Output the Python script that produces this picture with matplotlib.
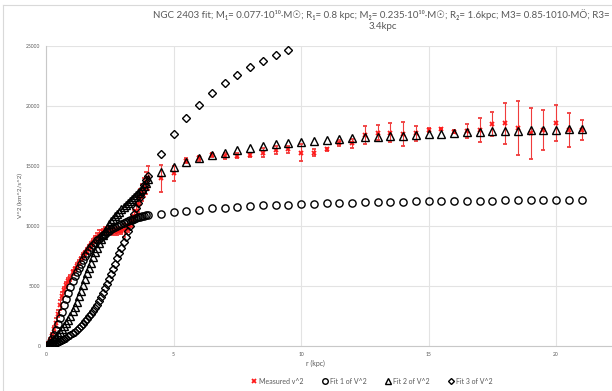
import matplotlib
matplotlib.use('Agg')
import matplotlib.pyplot as plt
from matplotlib.lines import Line2D

plt.rcParams['font.family'] = ['Lato', 'DejaVu Sans']

# inner part of the curve (dense sampling, kpc)
r_in = [0.08, 0.16, 0.24, 0.32, 0.40, 0.48, 0.56, 0.64, 0.72, 0.80,
        0.88, 0.96, 1.04, 1.12, 1.20, 1.28, 1.36, 1.44, 1.52, 1.60,
        1.68, 1.76, 1.84, 1.92, 2.00, 2.08, 2.16, 2.24, 2.32, 2.40,
        2.48, 2.56, 2.64, 2.72, 2.80, 2.88, 2.96, 3.04, 3.12, 3.20,
        3.28, 3.36, 3.44, 3.52, 3.60, 3.68, 3.76, 3.84, 3.92, 4.00]
meas_in = [150, 450, 850, 1400, 1950, 2700, 3400, 4200, 4700, 5100,
           5450, 5700, 6150, 6400, 6700, 6950, 7250, 7500, 7750, 7950,
           8200, 8400, 8650, 8900, 9050, 9200, 9350, 9500, 9600, 9700,
           9650, 9600, 9550, 9500, 9550, 9600, 9600, 9650, 9750, 9850,
           10100, 10400, 10800, 11250, 11800, 12400, 12800, 13200, 13600, 14000]
meas_in_err = [150, 200, 200, 250, 350, 300, 400, 300, 250, 250,
               200, 250, 200, 200, 250, 200, 200, 250, 200, 250,
               200, 250, 300, 250, 400, 500, 300, 250, 300, 250,
               300, 250, 300, 250, 300, 300, 250, 550, 300, 350,
               400, 450, 500, 500, 600, 650, 700, 800, 900, 1000]
fit1_in = [80, 260, 560, 950, 1350, 1800, 2300, 2850, 3400, 3930,
           4450, 4950, 5400, 5800, 6180, 6530, 6860, 7170, 7460, 7730,
           7980, 8220, 8430, 8620, 8800, 8950, 9100, 9240, 9370, 9500,
           9620, 9730, 9830, 9920, 10000, 10080, 10160, 10240, 10320, 10400,
           10470, 10540, 10600, 10660, 10710, 10760, 10800, 10840, 10880, 10920]
fit2_in = [100, 250, 420, 600, 780, 980, 1180, 1400, 1640, 1900,
           2200, 2520, 2880, 3270, 3700, 4150, 4620, 5100, 5580, 6050,
           6500, 6950, 7380, 7800, 8200, 8580, 8930, 9260, 9570, 9860,
           10130, 10380, 10600, 10810, 11010, 11200, 11380, 11560, 11740, 11910,
           12080, 12250, 12420, 12590, 12760, 12930, 13100, 13300, 13550, 13900]
fit3_in = [15, 50, 110, 190, 270, 350, 430, 510, 600, 700,
           810, 930, 1060, 1200, 1350, 1510, 1680, 1860, 2050, 2250,
           2460, 2680, 2920, 3170, 3450, 3760, 4100, 4450, 4820, 5200,
           5600, 6010, 6430, 6860, 7300, 7740, 8190, 8640, 9100, 9560,
           10030, 10500, 10980, 11460, 11950, 12450, 12950, 13440, 13800, 14150]

# outer part (0.5 kpc steps)
r_out = [4.5, 5.0, 5.5, 6.0, 6.5, 7.0, 7.5, 8.0, 8.5, 9.0, 9.5, 10.0,
         10.5, 11.0, 11.5, 12.0, 12.5, 13.0, 13.5, 14.0, 14.5, 15.0, 15.5,
         16.0, 16.5, 17.0, 17.5, 18.0, 18.5, 19.0, 19.5, 20.0, 20.5, 21.0]
meas_out = [13970, 14390, 15440, 15640, 15920, 15850, 15860, 15920, 16110, 16330, 16390, 16100,
            16110, 16390, 16890, 16890, 17580, 17780, 17780, 17670, 17720, 18000, 18060,
            17860, 17920, 18000, 18500, 18560, 18200, 17720, 18000, 18560, 18000, 18000]
meas_out_err = [1100, 600, 200, 200, 150, 250, 200, 200, 400, 350, 300, 700,
                300, 150, 250, 400, 720, 600, 800, 1000, 600, 150, 100,
                100, 580, 1000, 1000, 1700, 2250, 2100, 1700, 1500, 1400, 800]
fit1_out = [11000, 11140, 11275, 11360, 11470, 11530, 11610, 11670, 11720, 11750, 11780, 11830,
            11860, 11890, 11920, 11950, 11970, 11990, 12010, 12030, 12050, 12060, 12080,
            12090, 12100, 12110, 12120, 12130, 12140, 12150, 12160, 12170, 12180, 12190]
fit2_out = [14530, 14950, 15360, 15640, 15920, 16110, 16330, 16530, 16670, 16810, 16920, 17030,
            17110, 17190, 17250, 17310, 17390, 17440, 17500, 17540, 17590, 17650, 17700,
            17750, 17800, 17850, 17890, 17920, 17950, 17980, 18010, 18040, 18060, 18080]
r_fit3_out = [4.5, 5.0, 5.5, 6.0, 6.5, 7.0, 7.5, 8.0, 8.5, 9.0, 9.5]
fit3_out = [16000, 17670, 18970, 20080, 21080, 21890, 22610, 23220, 23750, 24220, 24640]

title = ("NGC 2403 fit; M\u2081= 0.077\u00b710\u00b9\u2070\u00b7M\u2609; R\u2081= 0.8 kpc; "
         "M\u2082= 0.235\u00b710\u00b9\u2070\u00b7M\u2609; R\u2082= 1.6kpc; "
         "M3= 0.85\u00b71010\u00b7M\u04e6; R3= \n3.4kpc")

grey = '#595959'

fig = plt.figure(figsize=(6.12, 3.91), dpi=100)
# plot area runs past the right edge like in the cropped screenshot
ax = fig.add_axes([46 / 612, 45 / 391, 637.5 / 612, 300 / 391])

ax.errorbar(r_in + r_out, meas_in + meas_out, yerr=meas_in_err + meas_out_err,
            fmt='x', color='#FF1A1A', ecolor='#F03C3C', elinewidth=0.8,
            capsize=1.5, capthick=0.8, ms=3.2, mew=1.3, zorder=3)
ax.plot(r_in + r_out, fit1_in + fit1_out, 'o', ms=5.2, mfc='none', mec='black', mew=1.0, zorder=4)
ax.plot(r_in + r_out, fit2_in + fit2_out, '^', ms=5.2, mfc='none', mec='black', mew=1.0, zorder=5)
ax.plot(r_in + r_fit3_out, fit3_in + fit3_out, 'D', ms=3.6, mfc='none', mec='black', mew=1.0, zorder=6)

ax.set_xlim(0, 25)
ax.set_ylim(0, 25000)
ax.set_xticks([0, 5, 10, 15, 20, 25])
ax.set_xticklabels(['0', '5', '10', '15', '20', ''])
ax.set_yticks([0, 5000, 10000, 15000, 20000, 25000])
ax.tick_params(length=0, labelsize=3.6, labelcolor=grey, pad=4)
ax.grid(True, color='#E3E3E3', lw=0.8)
ax.set_axisbelow(True)
for s in ['top', 'right']:
    ax.spines[s].set_visible(False)
for s in ['left', 'bottom']:
    ax.spines[s].set_color('#C8C8C8')
    ax.spines[s].set_linewidth(0.8)

fig.text(315 / 612, 1 - 363 / 391, 'r (kpc)', ha='center', va='center',
         fontsize=5, color=grey)
fig.text(20 / 612, 1 - 196 / 391, 'V^2 (km^2/s^2)', ha='center', va='center',
         rotation=90, fontsize=4.5, color=grey)

fig.text(383 / 612, 1 - 20 / 391, title, ha='center', va='center',
         fontsize=7, color=grey, linespacing=1.3)

handles = [
    Line2D([], [], ls='none', marker='x', color='#FF1A1A', ms=3, mew=1.3),
    Line2D([], [], ls='none', marker='o', mfc='none', mec='black', ms=4, mew=1.0),
    Line2D([], [], ls='none', marker='^', mfc='none', mec='black', ms=4, mew=1.0),
    Line2D([], [], ls='none', marker='D', mfc='none', mec='black', ms=3, mew=1.0),
]
labels = ['Measured v^2', 'Fit 1 of V^2', 'Fit 2 of V^2', 'Fit 3 of V^2']
fig.legend(handles, labels, loc='center', bbox_to_anchor=(372 / 612, 1 - 381 / 391),
           ncol=4, frameon=False, fontsize=5, labelcolor=grey,
           handlelength=0.6, handletextpad=0.4, columnspacing=2.8)

# chart-area border
fig.add_artist(Line2D([3 / 612, 1], [1 - 5 / 391] * 2, color='#D9D9D9', lw=0.8))
fig.add_artist(Line2D([3 / 612] * 2, [0, 1 - 5 / 391], color='#D9D9D9', lw=0.8))

fig.savefig('out.png', dpi=100)
